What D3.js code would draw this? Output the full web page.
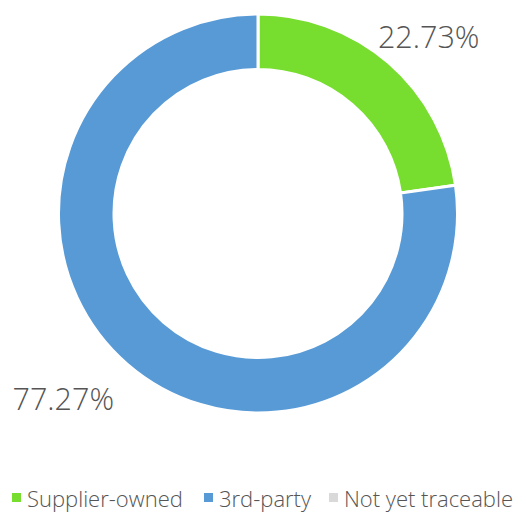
<!DOCTYPE html>
<html><head><meta charset="utf-8">
<script src="https://cdn.jsdelivr.net/npm/d3@7"></script>
<style>body{margin:0;background:#fff}svg{display:block}</style>
</head><body>
<script>
const categories = ["Supplier-owned", "3rd-party", "Not yet traceable"];
const values = [22.73, 77.27, 0];
const colors = ["#77DD2E", "#579AD6", "#D9D9D9"];
const labels = ["22.73%", "77.27%", ""];

const W = 518, H = 513;
const cx = 258, cy = 213.5, R = 199.5, r = 144;
const FONT = "'Open Sans', 'Liberation Sans', sans-serif";
const svg = d3.select("body").append("svg").attr("width", W).attr("height", H);
const g = svg.append("g").attr("transform", `translate(${cx},${cy})`);
const data = categories.map((c, i) => ({c, v: values[i], col: colors[i], lab: labels[i]}));
const pie = d3.pie().value(d => d.v).sort(null);
const arc = d3.arc().innerRadius(r).outerRadius(R);
const arcs = pie(data);
g.selectAll("path").data(arcs.filter(a => a.data.v > 0)).join("path")
  .attr("d", arc).attr("fill", d => d.data.col).attr("stroke", "#fff").attr("stroke-width", 3);

const labelArc = d3.arc().innerRadius(250).outerRadius(250);
const offs = [[7, 23], [-31, 8]];
g.selectAll("text.lab").data(arcs.filter(a => a.data.v > 0)).join("text")
  .attr("class", "lab")
  .attr("x", (d, i) => labelArc.centroid(d)[0] + offs[i][0])
  .attr("y", (d, i) => labelArc.centroid(d)[1] + offs[i][1])
  .attr("text-anchor", "middle")
  .attr("font-family", FONT).attr("font-weight", 300)
  .attr("font-size", 30.5).attr("fill", "#555")
  .text(d => d.data.lab);

const legend = svg.append("g").attr("transform", "translate(0,507)");
const lx = [12, 204, 329];
const items = legend.selectAll("g").data(data).join("g").attr("transform", (d, i) => `translate(${lx[i]},0)`);
items.append("rect").attr("x", 0).attr("y", -14).attr("width", 9).attr("height", 9).attr("fill", d => d.col);
items.append("text").attr("x", 15).attr("y", 0)
  .attr("font-family", FONT).attr("font-weight", 300)
  .attr("font-size", 22).attr("fill", "#555").text(d => d.c);
</script>
</body></html>
